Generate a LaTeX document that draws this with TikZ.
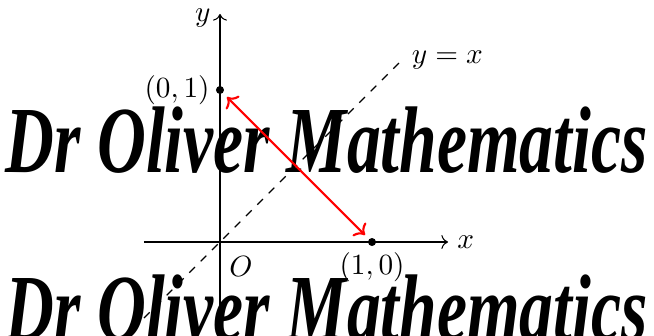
\documentclass[tikz,border=0pt]{standalone}
\usepackage{fontspec}
\newfontfamily\brandfont{Liberation Serif}
\usetikzlibrary{arrows.meta, positioning}
\tikzset{
  every picture/.style={line width=0.4pt},
  every node/.style={font=\fontsize{10.95}{13.6}\selectfont},
  axis/.style={->},
  pt/.style={circle, fill=black, inner sep=0pt, minimum size=3pt},
  lbl/.style={inner sep=2pt},
  brand/.style={inner sep=0pt},
}
\newcommand{\brandtext}{\scalebox{1}[1.4]{\resizebox{8.45cm}{!}{\brandfont\bfseries\itshape Dr Oliver Mathematics}}}

\begin{document}
\begin{tikzpicture}[x=2cm, y=2cm]
  \useasboundingbox (-1.447,-0.618) rectangle (2.855,1.592);
  % watermark
  \node[brand] (wm1) at (0.70,0.67) {\brandtext};
  \node[brand] (wm2) at (0.70,-0.435) {\brandtext};
  % axes
  \coordinate (O) at (0,0);
  \coordinate (xl) at (-0.5,0);
  \coordinate (xr) at (1.5,0);
  \coordinate (yb) at (0,-0.62);
  \coordinate (yt) at (0,1.5);
  \draw[axis] (xl) -- (xr) node[right] (xlab) {$x$};
  \draw[axis] (yb) -- (yt) node[left, yshift=-1.5pt] (ylab) {$y$};
  \node[below right, yshift=-2pt] (olab) at (O) {$O$};
  % line y = x
  \coordinate (d1) at (-0.5,-0.5);
  \coordinate (d2) at (1.2,1.2);
  \draw[dashed] (d1) -- (d2) node[right] (dlab) {$y = x$};
  % points
  \node[pt] (A) at (0,1) {};
  \node[pt] (B) at (1,0) {};
  \node[lbl, left=0pt of A] (alab) {$(0,1)$};
  \node[lbl, below=0pt of B] (blab) {$(1,0)$};
  \draw[red, thick, <->, shorten <=2pt, shorten >=2pt] (A) -- (B);
\end{tikzpicture}
\end{document}
